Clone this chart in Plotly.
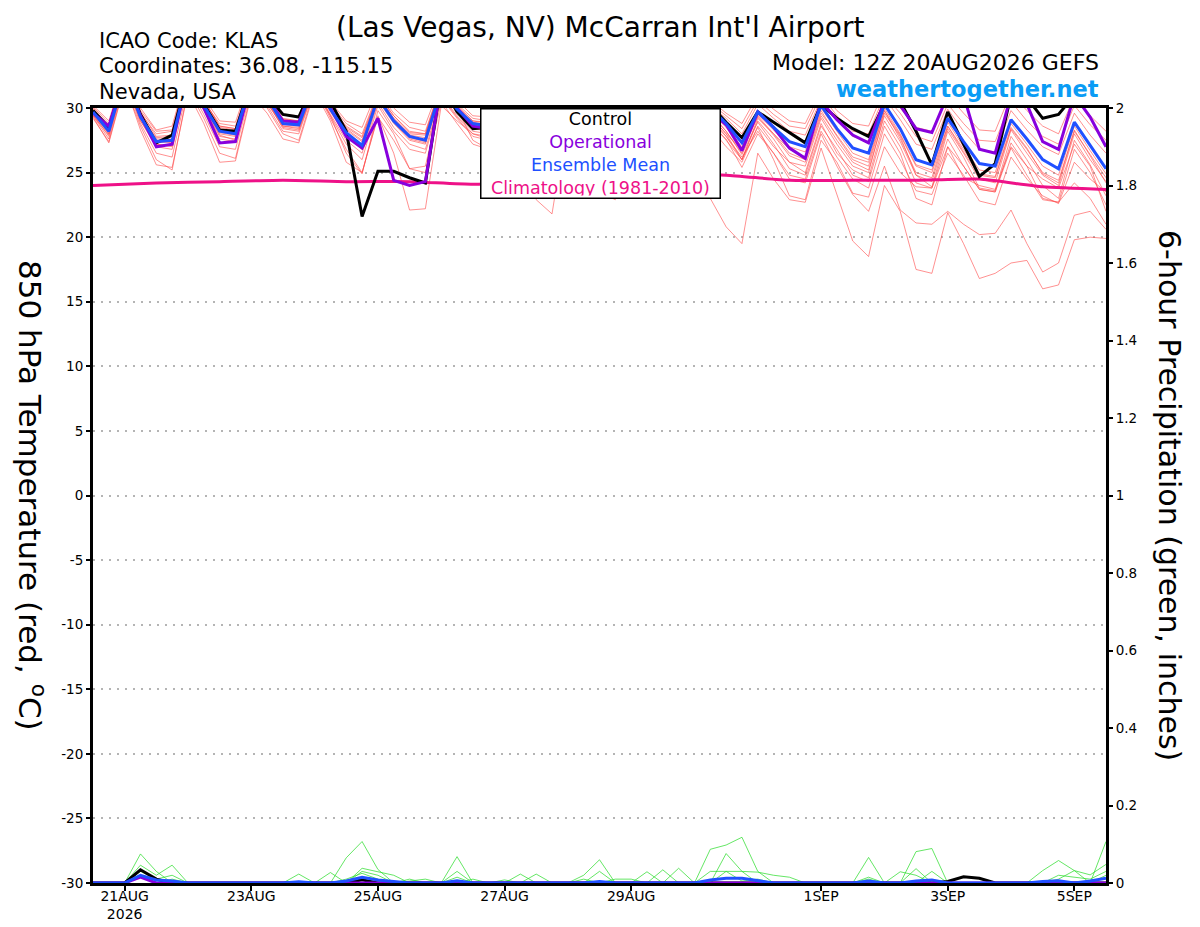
import pandas as pd
import plotly.graph_objs as go

# 6-hourly GEFS run, 12Z 20AUG2026 out to 384h
times = pd.date_range("2026-08-20 12:00", periods=65, freq="6h")
clim_times = pd.date_range("2026-08-20 12:00", periods=17, freq="24h")

# 850 hPa temperature (C)
control_t = [29.8, 28.5, 32.5, 29.5,
             27.3, 27.9, 32.5, 30.3,
             28.3, 28.2, 32.0, 31.0,
             29.5, 29.3, 32.0, 30.5,
             28.2, 21.6, 25.1, 25.1,
             24.6, 24.2, 32.0, 29.7,
             28.4, 28.5, 31.8, 30.3,
             28.8, 28.6, 31.6, 30.2,
             28.8, 28.5, 31.6, 30.1,
             28.7, 28.4, 31.5, 30.2,
             28.9, 27.7, 29.7, 28.9,
             28.1, 27.3, 30.3, 29.2,
             28.4, 27.8, 30.3, 30.5,
             28.2, 25.6, 29.7, 27.2,
             24.7, 25.7, 31.0, 30.8,
             29.2, 29.5, 31.0, 31.0,
             30.8]
oper_t = [29.6, 28.6, 32.5, 29.4,
          27.0, 27.2, 32.5, 30.0,
          27.3, 27.4, 32.0, 30.8,
          29.0, 28.9, 32.0, 30.0,
          27.8, 26.9, 29.2, 24.4,
          24.0, 24.3, 32.0, 30.0,
          28.6, 28.4, 31.5, 30.0,
          28.5, 28.2, 31.5, 30.0,
          28.5, 28.2, 31.5, 29.9,
          28.4, 28.0, 31.2, 29.8,
          28.7, 26.7, 29.7, 28.5,
          26.9, 26.1, 30.5, 29.1,
          27.9, 27.3, 30.5, 30.2,
          28.4, 28.1, 31.0, 31.0,
          26.8, 26.5, 31.0, 30.3,
          27.4, 26.8, 31.0, 29.3,
          27.0]
mean_t = [29.7, 28.2, 32.5, 29.3,
          27.4, 27.5, 32.5, 30.2,
          28.2, 28.0, 32.0, 30.8,
          28.8, 28.7, 32.0, 29.9,
          28.1, 27.1, 30.8, 29.0,
          27.8, 27.5, 31.5, 29.9,
          28.8, 28.6, 31.5, 30.0,
          28.7, 28.4, 31.5, 30.0,
          28.6, 28.4, 31.5, 30.0,
          28.5, 28.3, 31.5, 30.0,
          28.8, 27.3, 29.7, 28.5,
          27.4, 27.0, 30.2, 28.4,
          26.9, 26.5, 30.3, 28.4,
          26.0, 25.6, 29.2, 27.4,
          25.7, 25.5, 29.1, 27.6,
          26.0, 25.3, 28.9, 27.1,
          25.3]
clim_t = [24.0, 24.2, 24.3, 24.4, 24.3, 24.3, 24.1, 24.3, 24.6,
          24.9, 24.8, 24.4, 24.4, 24.4, 24.5, 23.9, 23.7]

ens_01 = [30.0, 28.6, 32.8, 29.6, 28.0, 28.2, 32.8, 30.5, 28.8, 28.6, 32.3, 31.0,
          29.2, 29.0, 32.3, 30.3, 28.8, 28.0, 31.2, 29.6, 28.5, 28.2, 31.8, 30.3,
          29.2, 29.0, 31.8, 30.4, 29.0, 28.9, 31.8, 30.4, 29.0, 28.8, 31.8, 30.3,
          29.0, 28.8, 31.8, 30.4, 29.4, 28.4, 30.6, 29.5, 28.6, 28.4, 31.0, 29.4,
          28.2, 28.0, 31.0, 29.6, 27.8, 27.4, 30.3, 28.8, 27.5, 27.4, 30.5, 29.0,
          27.8, 27.2, 30.2, 28.7, 27.5]
ens_02 = [29.5, 27.8, 32.2, 29.0, 27.0, 26.8, 32.2, 29.8, 27.6, 27.4, 31.6, 30.4,
          28.5, 28.3, 31.7, 29.5, 27.5, 26.5, 30.4, 28.5, 27.2, 26.8, 31.0, 29.4,
          28.2, 28.0, 31.0, 29.5, 28.0, 27.6, 31.0, 29.5, 28.0, 27.7, 31.0, 29.4,
          27.8, 27.5, 31.0, 29.5, 28.2, 26.5, 29.4, 28.0, 26.8, 26.2, 29.8, 27.8,
          26.0, 25.5, 29.8, 27.6, 25.0, 24.6, 28.6, 26.6, 24.8, 24.6, 28.4, 26.8,
          25.0, 24.4, 28.2, 26.4, 24.6]
ens_03 = [29.3, 27.3, 31.8, 28.6, 26.0, 25.2, 31.5, 29.2, 26.5, 26.1, 31.2, 30.0,
          28.0, 27.5, 31.5, 29.4, 26.5, 24.9, 29.8, 28.0, 25.3, 25.5, 30.8, 29.2,
          27.8, 27.5, 30.8, 29.6, 27.0, 26.5, 30.8, 29.5, 27.5, 27.2, 30.6, 29.4,
          27.6, 27.2, 30.8, 29.4, 28.0, 26.0, 29.0, 27.6, 25.8, 25.5, 29.2, 27.2,
          25.5, 25.0, 29.6, 27.8, 24.8, 23.9, 28.2, 26.2, 23.8, 23.6, 27.8, 26.0,
          24.0, 23.0, 27.5, 25.6, 23.2]
ens_04 = [29.8, 28.0, 32.6, 29.2, 27.2, 27.0, 32.4, 30.0, 27.9, 27.5, 31.8, 30.6,
          28.4, 28.2, 31.6, 29.2, 26.8, 25.0, 29.4, 26.5, 22.1, 22.2, 30.2, 29.0,
          28.0, 27.6, 31.2, 29.8, 28.2, 28.0, 31.2, 29.8, 28.3, 28.1, 31.3, 29.8,
          28.2, 27.8, 31.2, 29.7, 28.5, 27.0, 29.5, 28.3, 27.0, 26.6, 30.0, 28.2,
          26.5, 26.0, 30.0, 28.0, 25.6, 25.2, 28.9, 27.0, 25.2, 25.0, 28.8, 27.2,
          25.5, 24.8, 28.6, 26.7, 24.9]
ens_05 = [29.9, 28.3, 32.7, 29.5, 27.6, 27.6, 32.6, 30.3, 28.4, 28.2, 32.1, 30.9,
          28.9, 28.8, 32.1, 30.0, 28.3, 27.4, 31.0, 29.2, 27.9, 27.7, 31.6, 30.0,
          27.5, 26.8, 31.0, 27.5, 22.9, 21.8, 29.5, 27.0, 25.5, 24.5, 30.5, 28.5,
          27.0, 26.5, 30.8, 29.0, 27.5, 26.0, 29.2, 28.0, 26.5, 26.0, 29.6, 27.9,
          26.2, 25.8, 29.8, 27.9, 25.5, 25.0, 28.6, 26.8, 24.9, 24.7, 28.5, 26.9,
          24.9, 24.2, 28.3, 26.3, 24.2]
ens_06 = [29.6, 28.1, 32.4, 29.3, 27.5, 27.3, 32.3, 30.1, 28.0, 27.8, 31.9, 30.6,
          28.6, 28.4, 31.8, 29.7, 27.8, 26.8, 30.6, 28.8, 27.5, 27.2, 31.2, 29.6,
          28.4, 28.2, 31.2, 29.7, 28.3, 28.0, 31.0, 29.0, 23.5, 22.9, 29.0, 27.5,
          26.5, 26.0, 30.0, 28.5, 27.0, 25.8, 28.6, 27.0, 25.8, 25.0, 28.8, 26.5,
          25.2, 24.6, 29.0, 27.0, 24.2, 23.8, 27.6, 25.5, 23.7, 23.5, 27.3, 25.5,
          23.0, 22.7, 26.8, 25.0, 22.5]
ens_07 = [29.7, 28.4, 32.5, 29.4, 27.7, 27.8, 32.6, 30.4, 28.5, 28.3, 32.1, 30.8,
          29.0, 28.9, 32.0, 30.0, 28.4, 27.5, 30.9, 29.2, 28.0, 27.9, 31.6, 30.0,
          28.9, 28.7, 31.5, 29.8, 28.6, 28.2, 31.2, 29.5, 28.0, 27.5, 30.8, 29.0,
          27.5, 26.5, 29.5, 23.0, 20.8, 19.5, 26.5, 24.5, 22.9, 22.7, 26.9, 23.3,
          19.7, 18.5, 24.0, 22.0, 17.5, 17.2, 21.9, 19.5, 16.8, 17.2, 18.0, 18.2,
          16.0, 16.3, 19.8, 20.0, 19.9]
ens_08 = [29.4, 27.9, 32.3, 29.0, 27.2, 27.1, 32.2, 29.9, 27.8, 27.6, 31.7, 30.4,
          28.6, 28.5, 31.9, 29.8, 28.0, 27.0, 30.7, 28.9, 27.6, 27.3, 31.3, 29.7,
          28.5, 28.3, 31.3, 29.8, 28.4, 28.1, 31.3, 29.8, 28.3, 28.1, 31.2, 29.7,
          28.0, 27.7, 31.0, 29.3, 27.8, 26.2, 28.2, 26.5, 24.5, 24.2, 28.0, 25.5,
          23.3, 22.0, 25.5, 22.1, 21.1, 21.0, 22.0, 21.0, 20.2, 20.3, 22.1, 19.5,
          17.3, 18.0, 21.7, 22.0, 20.6]
ens_09 = [30.1, 28.8, 32.9, 29.8, 28.2, 28.3, 32.9, 30.6, 28.6, 28.4, 32.2, 31.0,
          29.1, 29.0, 32.2, 30.1, 28.6, 27.8, 31.1, 29.4, 28.2, 28.0, 31.7, 30.1,
          29.0, 28.8, 31.6, 30.1, 28.8, 28.6, 31.6, 30.1, 28.7, 28.5, 31.6, 30.0,
          28.4, 28.0, 31.0, 29.0, 27.8, 26.0, 28.5, 26.0, 23.2, 22.9, 27.5, 25.8,
          23.4, 23.1, 27.0, 25.0, 23.9, 23.8, 27.0, 25.5, 23.7, 23.5, 26.9, 24.8,
          22.9, 22.7, 24.2, 23.0, 21.0]
ens_10 = [29.5, 28.0, 32.4, 29.2, 27.3, 27.4, 32.4, 30.0, 28.1, 27.9, 31.9, 30.7,
          28.7, 28.6, 31.9, 29.8, 28.0, 27.1, 30.8, 28.9, 27.7, 27.4, 31.4, 29.8,
          28.7, 28.5, 31.4, 29.9, 28.5, 28.3, 31.4, 29.9, 28.4, 28.2, 31.3, 29.8,
          28.3, 28.0, 31.3, 29.7, 28.2, 26.4, 28.9, 27.2, 25.3, 24.8, 28.6, 26.8,
          24.8, 24.3, 28.6, 26.5, 23.0, 22.5, 27.0, 24.6, 24.0, 23.7, 27.0, 25.5,
          24.5, 23.8, 27.2, 25.5, 22.0]
ens_11 = [30.2, 29.0, 33.0, 30.0, 28.3, 28.6, 33.0, 30.8, 29.0, 28.9, 32.5, 31.3,
          29.5, 29.4, 32.5, 30.5, 29.0, 28.5, 31.5, 30.0, 28.9, 28.7, 32.0, 30.6,
          29.4, 29.3, 32.0, 30.6, 29.3, 29.1, 32.0, 30.6, 29.2, 29.0, 32.0, 30.5,
          29.2, 29.0, 32.0, 30.6, 29.6, 28.8, 31.0, 29.9, 29.0, 28.8, 31.3, 29.8,
          28.8, 28.6, 31.4, 30.0, 28.5, 28.2, 31.0, 29.6, 28.3, 28.2, 31.2, 29.8,
          28.6, 28.0, 30.9, 29.4, 28.2]
ens_12 = [29.2, 27.4, 31.9, 28.3, 25.6, 25.4, 31.2, 28.8, 25.8, 25.9, 31.0, 29.6,
          27.6, 27.3, 31.3, 29.0, 25.8, 25.0, 29.3, 27.5, 25.3, 25.0, 30.5, 28.8,
          27.2, 26.8, 30.5, 28.8, 27.5, 27.2, 30.5, 29.0, 27.0, 26.6, 30.3, 28.7,
          27.2, 26.8, 30.4, 28.7, 27.6, 25.4, 28.0, 26.5, 24.8, 24.5, 28.2, 26.2,
          24.5, 23.8, 28.0, 26.0, 23.6, 23.3, 26.5, 24.8, 22.8, 22.5, 26.2, 24.5,
          23.2, 22.6, 25.8, 24.5, 23.5]
ens_13 = [29.9, 28.5, 32.7, 29.7, 27.8, 27.9, 32.7, 30.6, 28.6, 28.4, 32.2, 31.0,
          29.1, 29.0, 32.2, 30.2, 28.5, 27.7, 31.0, 29.4, 28.1, 28.0, 31.8, 30.2,
          29.0, 28.9, 31.8, 30.3, 28.9, 28.7, 31.8, 30.2, 28.8, 28.6, 31.7, 30.2,
          28.8, 28.5, 31.7, 30.2, 29.2, 28.0, 30.3, 29.2, 28.2, 27.9, 30.7, 29.0,
          27.8, 27.4, 30.8, 29.1, 27.2, 26.8, 29.9, 28.2, 26.8, 26.6, 29.8, 28.3,
          27.0, 26.4, 29.6, 27.9, 26.5]
ens_14 = [29.4, 27.6, 32.1, 28.8, 26.5, 26.2, 31.8, 29.5, 27.0, 26.8, 31.4, 30.2,
          28.2, 28.0, 31.6, 29.4, 27.2, 26.0, 30.2, 28.2, 26.8, 26.5, 30.9, 29.3,
          28.0, 27.8, 30.9, 29.3, 27.8, 27.5, 30.9, 29.4, 27.7, 27.4, 30.9, 29.4,
          27.6, 27.3, 30.9, 29.4, 28.0, 26.8, 29.3, 27.9, 26.3, 25.8, 29.4, 27.5,
          25.8, 25.2, 29.4, 27.4, 24.8, 24.3, 28.4, 26.5, 24.5, 24.2, 28.3, 26.5,
          24.8, 24.0, 28.0, 26.0, 24.3]
members_t = [ens_01, ens_02, ens_03, ens_04, ens_05, ens_06, ens_07,
             ens_08, ens_09, ens_10, ens_11, ens_12, ens_13, ens_14]

# 6-hour precipitation (inches)
pcp_01 = [0, 0, 0, 0.075, 0.03, 0, 0, 0, 0, 0, 0, 0, 0, 0, 0, 0,
          0.065, 0.107, 0.035, 0, 0, 0, 0, 0.068, 0, 0, 0, 0, 0, 0, 0, 0,
          0, 0, 0, 0, 0, 0, 0, 0.087, 0.098, 0.118, 0.03, 0, 0, 0, 0, 0,
          0, 0, 0, 0, 0.081, 0.089, 0, 0, 0, 0, 0, 0, 0, 0, 0, 0, 0.02]
pcp_02 = [0, 0, 0, 0.046, 0.02, 0.046, 0, 0, 0, 0, 0, 0, 0, 0, 0, 0,
          0, 0.038, 0.029, 0.02, 0, 0, 0, 0.03, 0, 0, 0, 0.023, 0, 0, 0, 0.02,
          0.06, 0, 0, 0, 0.034, 0, 0, 0, 0.076, 0.03, 0, 0, 0, 0, 0, 0,
          0, 0.066, 0, 0, 0.037, 0, 0, 0, 0, 0, 0, 0, 0.032, 0.058, 0.032, 0.021, 0.048]
pcp_03 = [0, 0, 0, 0.03, 0.01, 0.02, 0, 0, 0, 0, 0, 0, 0, 0.023, 0, 0.027,
          0, 0.03, 0.02, 0, 0.01, 0, 0, 0.015, 0, 0, 0, 0, 0.023, 0, 0, 0,
          0.03, 0, 0, 0.029, 0, 0.038, 0, 0.03, 0.03, 0.03, 0.028, 0.02, 0.015, 0, 0, 0,
          0, 0.01, 0, 0.029, 0.02, 0, 0, 0, 0, 0, 0, 0, 0, 0.01, 0.032, 0, 0.107]
pcp_04 = [0, 0, 0, 0.02, 0, 0.01, 0, 0, 0, 0, 0, 0, 0, 0, 0, 0,
          0.01, 0.025, 0.01, 0, 0.005, 0.01, 0, 0, 0.01, 0, 0.008, 0, 0, 0, 0, 0.01,
          0, 0.01, 0.01, 0, 0, 0, 0, 0, 0.03, 0.005, 0.01, 0, 0, 0, 0, 0,
          0, 0.015, 0, 0, 0, 0.03, 0, 0, 0, 0, 0, 0, 0, 0.02, 0.015, 0.01, 0.03]
members_p = [pcp_01, pcp_02, pcp_03, pcp_04]
control_p = [0, 0, 0, 0.034, 0.01, 0, 0, 0, 0, 0, 0, 0, 0, 0, 0, 0,
             0, 0.008, 0, 0, 0, 0, 0, 0, 0, 0, 0, 0, 0, 0, 0, 0,
             0, 0, 0, 0, 0, 0, 0, 0, 0, 0, 0, 0, 0, 0, 0, 0,
             0, 0, 0, 0, 0, 0, 0.004, 0.016, 0.012, 0, 0, 0, 0, 0, 0, 0, 0]
oper_p = [0, 0, 0, 0.015, 0, 0, 0, 0, 0, 0, 0, 0, 0, 0, 0, 0,
          0, 0, 0, 0, 0, 0, 0, 0, 0, 0, 0, 0, 0, 0, 0, 0,
          0, 0, 0, 0, 0, 0, 0, 0, 0, 0, 0, 0, 0, 0, 0, 0,
          0, 0, 0, 0, 0, 0, 0, 0, 0, 0, 0, 0, 0, 0, 0, 0, 0]
mean_p = [0, 0, 0, 0.02, 0.008, 0.005, 0, 0, 0, 0, 0, 0, 0, 0.003, 0, 0,
          0.005, 0.015, 0.008, 0.004, 0, 0, 0, 0.006, 0, 0, 0, 0, 0, 0, 0, 0,
          0.004, 0, 0, 0, 0, 0, 0, 0.008, 0.012, 0.012, 0.006, 0, 0, 0, 0, 0,
          0, 0.005, 0, 0, 0.005, 0.008, 0, 0, 0, 0, 0, 0, 0.004, 0.006, 0, 0.005, 0.012]

date_ticks = ["2026-08-21", "2026-08-23", "2026-08-25", "2026-08-27",
              "2026-08-29", "2026-09-01", "2026-09-03", "2026-09-05"]
date_labels = ["21AUG<br>2026", "23AUG", "25AUG", "27AUG", "29AUG", "1SEP", "3SEP", "5SEP"]
temp_ticks = [-30, -25, -20, -15, -10, -5, 0, 5, 10, 15, 20, 25, 30]
temp_labels = ["-30", "-25", "-20", "-15", "-10", "-5", "0", "5", "10", "15", "20", "25", "30"]
pcp_ticks = [0, 0.2, 0.4, 0.6, 0.8, 1, 1.2, 1.4, 1.6, 1.8, 2]
pcp_labels = ["0", "0.2", "0.4", "0.6", "0.8", "1", "1.2", "1.4", "1.6", "1.8", "2"]

FONT = "DejaVu Sans"
RED = "rgba(255,70,70,0.75)"
GREEN = "rgba(40,220,40,0.9)"
PURPLE = "#8800dd"
BLUE = "#2050ff"
PINK = "#ee1188"

fig = go.Figure()

for m in members_t:
    fig.add_trace(go.Scatter(x=times, y=m, mode="lines",
                             line=dict(color=RED, width=0.8), showlegend=False))
for m in members_p:
    fig.add_trace(go.Scatter(x=times, y=m, mode="lines", yaxis="y2",
                             line=dict(color=GREEN, width=0.8), showlegend=False))

fig.add_trace(go.Scatter(x=clim_times, y=clim_t, mode="lines",
                         line=dict(color=PINK, width=3, shape="spline", smoothing=0.5),
                         showlegend=False))

fig.add_trace(go.Scatter(x=times, y=control_p, mode="lines", yaxis="y2",
                         line=dict(color="black", width=3), showlegend=False))
fig.add_trace(go.Scatter(x=times, y=oper_p, mode="lines", yaxis="y2",
                         line=dict(color=PURPLE, width=3), showlegend=False))
fig.add_trace(go.Scatter(x=times, y=mean_p, mode="lines", yaxis="y2",
                         line=dict(color=BLUE, width=3), showlegend=False))

fig.add_trace(go.Scatter(x=times, y=control_t, mode="lines",
                         line=dict(color="black", width=3), showlegend=False))
fig.add_trace(go.Scatter(x=times, y=oper_t, mode="lines",
                         line=dict(color=PURPLE, width=3), showlegend=False))
fig.add_trace(go.Scatter(x=times, y=mean_t, mode="lines",
                         line=dict(color=BLUE, width=3), showlegend=False))


def py(pix):
    # page pixel row -> paper coordinate (plot spans rows 108..883)
    return (883 - pix) / 775.0


def px_(pix):
    return (pix - 93) / 1013.0


annos = [
    dict(text="(Las Vegas, NV) McCarran Int'l Airport", x=px_(600), y=py(27),
         font=dict(size=28)),
    dict(text="ICAO Code: KLAS", x=px_(97), y=py(41), xanchor="left", font=dict(size=21)),
    dict(text="Coordinates: 36.08, -115.15", x=px_(97), y=py(66), xanchor="left",
         font=dict(size=21)),
    dict(text="Nevada, USA", x=px_(97), y=py(92), xanchor="left", font=dict(size=21)),
    dict(text="Model: 12Z 20AUG2026 GEFS", x=px_(1101), y=py(63), xanchor="right",
         font=dict(size=22)),
    dict(text="<b>weathertogether.net</b>", x=px_(1101), y=py(89), xanchor="right",
         font=dict(size=22.5, color="#0a9cf5")),
    dict(text="850 hPa Temperature (red, <sup>o</sup>C)", x=px_(32), y=py(495),
         textangle=90, font=dict(size=31)),
    dict(text="6-hour Precipitation (green, inches)", x=px_(1170), y=py(495),
         textangle=90, font=dict(size=30)),
    dict(text=("Control<br><span style='color:%s'>Operational</span><br>"
               "<span style='color:%s'>Ensemble Mean</span><br>"
               "<span style='color:%s'>Climatology (1981-2010)</span>") % (PURPLE, BLUE, PINK),
         x=px_(600), y=1.0, yanchor="top", width=234, height=84, align="center",
         bgcolor="white", bordercolor="black", borderwidth=1.5, borderpad=2,
         font=dict(size=17.5)),
]
for a in annos:
    a.setdefault("xanchor", "center")
    a.setdefault("yanchor", "middle")
    fig.add_annotation(xref="paper", yref="paper", showarrow=False, **a)

# page body has an 8px margin, so the figure is drawn 8px in and 16px smaller
fig.update_layout(
    width=1184, height=911,
    margin=dict(l=85, r=86, t=100, b=36, autoexpand=False),
    paper_bgcolor="white", plot_bgcolor="white",
    font=dict(family=FONT, color="black"),
    showlegend=False,
    xaxis=dict(type="date", range=["2026-08-20 12:00", "2026-09-05 12:00"],
               tickvals=date_ticks, ticktext=date_labels, tickfont=dict(size=14),
               ticks="outside", ticklen=5, tickwidth=1.5, tickcolor="black",
               ticklabelstandoff=-7,
               showgrid=False, showline=True, linewidth=3, linecolor="black",
               mirror=True, zeroline=False, automargin=False),
    yaxis=dict(range=[-30, 30], tickvals=temp_ticks, ticktext=temp_labels,
               tickfont=dict(size=13.5), ticks="outside", ticklen=4, tickwidth=1.5,
               tickcolor="black", showgrid=True, gridcolor="#b4b4b4",
               griddash="2px,6px", gridwidth=1.5, showline=True, linewidth=3,
               linecolor="black", zeroline=False, automargin=False),
    yaxis2=dict(range=[0, 2], overlaying="y", side="right", tickvals=pcp_ticks,
                ticktext=pcp_labels, tickfont=dict(size=13.5), ticks="outside",
                ticklen=4, tickwidth=1.5, tickcolor="black", showgrid=False,
                showline=True, linewidth=3, linecolor="black", zeroline=False,
                automargin=False),
)

fig.write_html("out.html")
